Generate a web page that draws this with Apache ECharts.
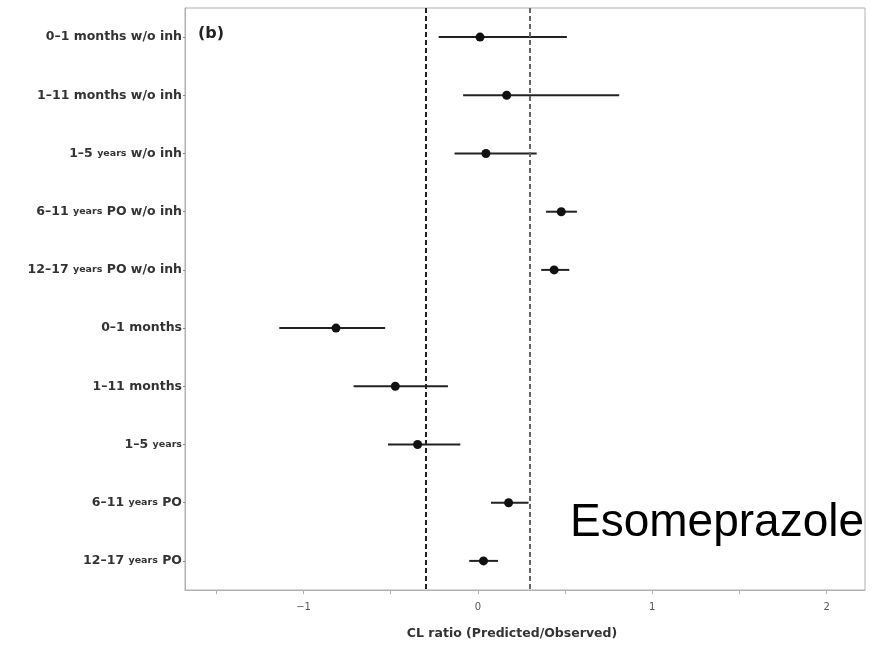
<!DOCTYPE html>
<html>
<head>
<meta charset="utf-8">
<script src="https://cdn.jsdelivr.net/npm/echarts@6/dist/echarts.min.js"></script>
<style>
html,body{margin:0;padding:0;background:#fff;}
#chart{width:875px;height:646px;}
</style>
</head>
<body>
<div id="chart"></div>
<script>
const categories = [
  "0–1 months w/o inh", "1–11 months w/o inh", "1–5 years w/o inh",
  "6–11 years PO w/o inh", "12–17 years PO w/o inh",
  "0–1 months", "1–11 months", "1–5 years", "6–11 years PO", "12–17 years PO"
];
const estimates = [0.012, 0.165, 0.046, 0.478, 0.437, -0.814, -0.474, -0.346, 0.176, 0.032];
const lowerCI   = [-0.225, -0.085, -0.134, 0.39, 0.363, -1.139, -0.713, -0.516, 0.075, -0.05];
const upperCI   = [0.51, 0.81, 0.337, 0.568, 0.524, -0.532, -0.172, -0.101, 0.29, 0.115];
const refLines  = [-0.301, 0.301];
const xTicks    = [-1.5, -1, -0.5, 0, 0.5, 1, 1.5, 2];
const xLabels   = [-1, 0, 1, 2];

const chart = echarts.init(document.getElementById('chart'));
const ciData = categories.map((c, i) => [lowerCI[i], upperCI[i], c]);
const ptData = categories.map((c, i) => [estimates[i], c]);

chart.setOption({
  animation: false,
  backgroundColor: '#fff',
  grid: { left: 185, right: 10, top: 8, bottom: 56, show: true, borderColor: '#b0b0b0', borderWidth: 1,
    outerBoundsMode: 'none', containLabel: false },
  xAxis: {
    type: 'value', min: -1.68, max: 2.22,
    axisLine: { show: true, onZero: false, lineStyle: { color: '#b0b0b0' } },
    axisTick: { show: true, customValues: xTicks, length: 4, lineStyle: { color: '#b0b0b0' } },
    axisLabel: { customValues: xLabels, margin: 12, color: '#555', fontSize: 10, fontFamily: 'DejaVu Sans',
      formatter: v => v < 0 ? '−' + Math.abs(v) : String(v) },
    splitLine: { show: false },
    name: 'CL ratio (Predicted/Observed)', nameLocation: 'middle', nameGap: 37,
    nameTextStyle: { color: '#333', fontSize: 12.5, fontWeight: 'bold', fontFamily: 'DejaVu Sans', padding: [0, 26, 0, 0] }
  },
  yAxis: {
    type: 'category', data: categories, inverse: true,
    axisLine: { show: true, onZero: false, lineStyle: { color: '#b0b0b0' } },
    axisTick: { show: true, length: 2, alignWithLabel: true, lineStyle: { color: '#888' } },
    axisLabel: { margin: 3, color: '#333', fontSize: 12.5, fontWeight: 'bold', fontFamily: 'DejaVu Sans',
      formatter: v => v.replace('years', '{s|years}'),
      rich: { s: { fontSize: 9.5, fontWeight: 'bold', color: '#333', fontFamily: 'DejaVu Sans' } } },
    splitLine: { show: false }
  },
  graphic: [
    { type: 'text', left: 198, top: 26, style: { text: '(b)', font: 'bold 16px "DejaVu Sans"', fill: '#222' } },
    { type: 'text', left: 570, top: 500, z: 100, style: { text: 'Esomeprazole', font: '46px "Liberation Sans"', fill: '#000' } }
  ],
  series: [
    {
      type: 'custom',
      data: ciData,
      encode: { x: [0, 1], y: 2 },
      renderItem: function (params, api) {
        const p1 = api.coord([api.value(0), api.value(2)]);
        const p2 = api.coord([api.value(1), api.value(2)]);
        return { type: 'line', shape: { x1: p1[0], y1: p1[1], x2: p2[0], y2: p2[1] },
          style: { stroke: '#222', lineWidth: 2 } };
      },
      z: 3
    },
    {
      type: 'scatter',
      data: ptData,
      symbol: 'circle', symbolSize: 9,
      itemStyle: { color: '#111', opacity: 1 },
      z: 4,
      markLine: {
        symbol: 'none', silent: true, label: { show: false },
        data: [
          { xAxis: refLines[0], lineStyle: { color: '#222', type: [5, 3], width: 2 } },
          { xAxis: refLines[1], lineStyle: { color: '#666', type: [5, 3], width: 2 } }
        ]
      }
    }
  ]
});
</script>
</body>
</html>
